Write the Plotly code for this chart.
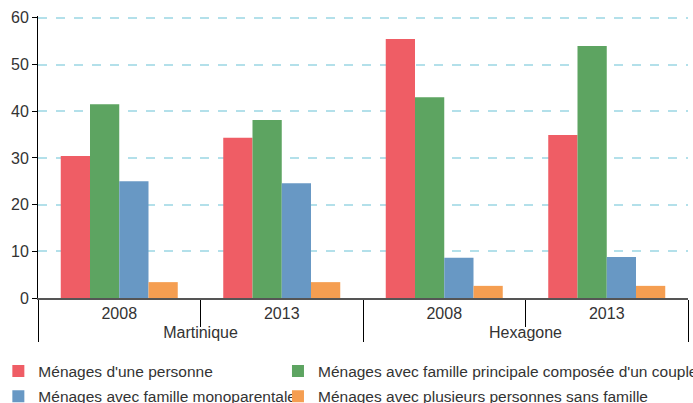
import plotly.graph_objects as go

regions = ["Martinique", "Martinique", "Hexagone", "Hexagone"]
years = ["2008", "2013", "2008", "2013"]

series_names = [
    "Ménages d'une personne",
    "Ménages avec famille principale composée d'un couple",
    "Ménages avec famille monoparentale",
    "Ménages avec plusieurs personnes sans famille",
]
une_personne = [30.4, 34.3, 55.5, 34.9]
couple = [41.5, 38.1, 43.0, 54.0]
monoparentale = [25.0, 24.6, 8.6, 8.8]
sans_famille = [3.4, 3.4, 2.6, 2.6]

colors = ["#ef5d65", "#5da461", "#6898c4", "#f59e51"]
values = [une_personne, couple, monoparentale, sans_famille]
# legend laid out in two columns: left column gets series 1 and 3
legend_ids = ["legend", "legend2", "legend", "legend2"]

fig = go.Figure()
for i, (name, vals, col) in enumerate(zip(series_names, values, colors)):
    fig.add_trace(go.Bar(name=name, x=[regions, years], y=vals, marker_color=col,
                         marker_line_width=0, legend=legend_ids[i],
                         legendgroup=f"g{i}"))

leg_common = dict(orientation="v", yanchor="top", y=-0.2, xanchor="left",
                  itemwidth=30, tracegroupgap=2, font=dict(size=15.5),
                  bgcolor="rgba(0,0,0,0)")

fig.update_layout(
    width=693, height=403,
    margin=dict(l=38, r=5, t=16, b=105, autoexpand=False),
    barmode="group", bargap=0.28, bargroupgap=0,
    plot_bgcolor="white", paper_bgcolor="white",
    font=dict(family="Liberation Sans, Arial, sans-serif", size=16, color="#333333"),
    legend=dict(x=-0.061, **leg_common),
    legend2=dict(x=0.3692, **leg_common),
    showlegend=True,
)
fig.update_yaxes(range=[0, 60.4], dtick=10, showgrid=True, gridcolor="#b3e0ea",
                 griddash="dash", gridwidth=1.5, showline=True, linecolor="black",
                 linewidth=1, ticks="outside", ticklen=5, tickcolor="black",
                 zeroline=False, automargin=False)
fig.update_xaxes(type="multicategory", showline=True, linecolor="#555555", linewidth=2,
                 ticks="outside", tickson="boundaries", ticklen=27, tickcolor="black",
                 showdividers=True, dividercolor="black", dividerwidth=1,
                 showgrid=False, automargin=False)

# page has a default body margin; remove it so the figure sits at the corner
fig.write_html("out.html", config={"displayModeBar": False},
               post_script="document.body.style.margin='0';")
